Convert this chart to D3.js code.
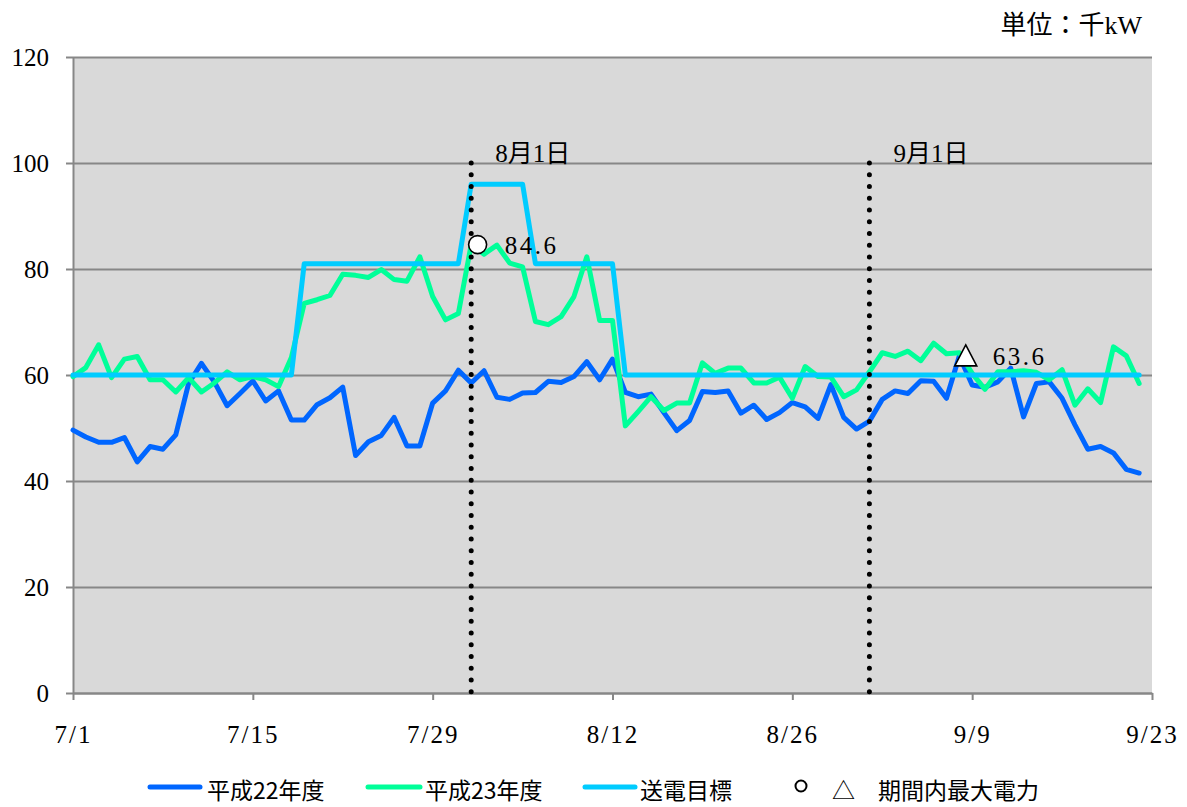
<!DOCTYPE html>
<html><head><meta charset="utf-8">
<script src="https://cdn.jsdelivr.net/npm/d3@7"></script>
<style>
body{margin:0;background:#fff;}
svg{display:block;}
</style>
</head><body>
<svg id="chart" width="1187" height="807"></svg>
<script>
// ---- data ----
const startDate = "2011-07-01";
const endDate = "2011-09-23";
const xTickLabels = ["7/1","7/15","7/29","8/12","8/26","9/9","9/23"];
const yTicks = [0,20,40,60,80,100,120];
const seriesNames = ["平成22年度","平成23年度","送電目標"];
const h22 = [49.6,48.3,47.3,47.3,48.2,43.6,46.5,46.0,48.7,58.4,
             62.2,58.7,54.2,56.5,58.9,55.1,57.0,51.5,51.5,54.4,
             55.7,57.7,44.8,47.4,48.6,52.0,46.6,46.6,54.7,57.0,
             60.9,58.5,60.8,55.8,55.4,56.6,56.7,58.8,58.6,59.7,
             62.5,59.1,63.0,56.7,55.9,56.4,52.9,49.5,51.4,56.9,
             56.7,57.0,52.8,54.3,51.6,52.9,54.8,54.0,51.8,58.2,
             52.0,49.8,51.3,55.4,57.0,56.5,58.9,58.8,55.6,63.6,
             58.1,57.7,58.7,61.3,52.1,58.4,58.7,55.6,50.6,46.0,
             46.5,45.3,42.2,41.5];
const h23 = [59.7,61.4,65.7,59.5,63.0,63.5,59.1,59.1,56.8,59.5,
             56.8,58.5,60.6,59.1,59.7,59.1,57.8,63.3,73.5,74.2,
             75.0,79.0,78.8,78.4,79.9,78.0,77.7,82.3,74.8,70.4,
             71.6,84.6,82.8,84.5,81.1,80.4,70.1,69.5,71.0,74.8,
             82.3,70.3,70.3,50.4,53.1,55.9,53.3,54.7,54.7,62.3,
             60.3,61.3,61.3,58.5,58.5,59.6,55.6,61.6,59.7,59.6,
             55.9,57.2,60.6,64.2,63.5,64.5,62.7,66.0,64.0,64.2,
             60.3,57.3,60.6,60.6,60.8,60.5,59.1,61.0,54.3,57.4,
             54.8,65.3,63.6,58.4];
const target = [60,60,60,60,60,60,60,60,60,60,
                60,60,60,60,60,60,60,60,81,81,
                81,81,81,81,81,81,81,81,81,81,
                81,96,96,96,96,96,81,81,81,81,
                81,81,81,60,60,60,60,60,60,60,
                60,60,60,60,60,60,60,60,60,60,
                60,60,60,60,60,60,60,60,60,60,
                60,60,60,60,60,60,60,60,60,60,
                60,60,60,60];
const markerDates = ["2011-08-01","2011-09-08"];
const markerValues = [84.6, 63.6];
const markerLabels = ["84.6","63.6"];
const markerShapes = ["circle","triangle"];
const eventDates = ["2011-08-01","2011-09-01"];
const eventLabels = ["8月1日","9月1日"];
const unitLabel = "単位：千kW";
const legendMarkerLabel = "△　期間内最大電力";

// ---- layout ----
const svg = d3.select("#chart");
const M = {left:73, top:57, right:1152, bottom:693};
const colors = ["#0066ff","#00ff99","#00ccff"];
const numFont = "'Liberation Serif','Noto Sans CJK JP',serif";
const cjkFont = "'Noto Sans CJK JP',sans-serif";
const gridColor = "#878787";

const parse = s => new Date(s + "T00:00:00Z");
const DAY = 86400000;
const t0 = parse(startDate);
const x = d3.scaleUtc().domain([t0, parse(endDate)]).range([M.left, M.right]);
const y = d3.scaleLinear().domain([0,120]).range([M.bottom, M.top]);
const dateOf = i => new Date(t0.getTime() + i*DAY);
const halfDay = (x(dateOf(1)) - x(dateOf(0))) / 2;

// plot background
svg.append("rect").attr("x",M.left).attr("y",M.top)
  .attr("width",M.right-M.left).attr("height",M.bottom-M.top).attr("fill","#d9d9d9");

// gridlines
const grid = svg.append("g").attr("transform",`translate(${M.left},0)`)
  .call(d3.axisLeft(y).tickValues(yTicks).tickSize(-(M.right-M.left)).tickFormat(""));
grid.select(".domain").remove();
grid.selectAll("line").attr("stroke",gridColor).attr("stroke-width",2);

// y axis
const yAx = svg.append("g").attr("transform",`translate(${M.left},0)`)
  .call(d3.axisLeft(y).tickValues(yTicks).tickSize(7).tickPadding(17).tickSizeOuter(0));
yAx.select(".domain").attr("stroke",gridColor).attr("stroke-width",2);
yAx.selectAll("line").attr("stroke",gridColor).attr("stroke-width",2);
yAx.selectAll("text").attr("font-family",numFont).attr("font-size",25).attr("fill","#000");

// x axis
const tickDates = xTickLabels.map(s => { const [m,d] = s.split("/").map(Number); return new Date(Date.UTC(2011,m-1,d)); });
const xAx = svg.append("g").attr("transform",`translate(0,${M.bottom})`)
  .call(d3.axisBottom(x).tickValues(tickDates).tickSize(7).tickSizeOuter(0)
        .tickFormat((d,i) => xTickLabels[i]));
xAx.select(".domain").attr("stroke",gridColor).attr("stroke-width",2);
xAx.selectAll("line").attr("stroke",gridColor).attr("stroke-width",2);
xAx.selectAll("text").attr("font-family",numFont).attr("font-size",25).attr("fill","#000")
  .attr("y",50).attr("dy",null).attr("letter-spacing",2);

// lines
const series = [h22, h23, target];
const line = d3.line().x((d,i) => x(dateOf(i))).y(d => y(d)).curve(d3.curveLinear);
series.forEach((s,k) => {
  svg.append("path").datum(s).attr("d",line).attr("fill","none")
    .attr("stroke",colors[k]).attr("stroke-width",5)
    .attr("stroke-linejoin","round").attr("stroke-linecap","round");
});

// event dotted lines
eventDates.forEach((ds,i) => {
  const xe = x(parse(ds));
  svg.append("line").attr("x1",xe).attr("x2",xe).attr("y1",y(100)).attr("y2",y(0))
    .attr("stroke","#000").attr("stroke-width",5).attr("stroke-linecap","round")
    .attr("stroke-dasharray","0 11.75");
  svg.append("text").attr("x",xe+24).attr("y",y(100)-1)
    .attr("font-family",numFont).attr("font-size",25).attr("fill","#000")
    .text(eventLabels[i]);
});

// max markers
markerDates.forEach((ds,i) => {
  const mx = x(parse(ds)) + halfDay, my = y(markerValues[i]);
  if (markerShapes[i] === "circle") {
    svg.append("circle").attr("cx",mx).attr("cy",my).attr("r",9)
      .attr("fill","#fff").attr("stroke","#000").attr("stroke-width",1.6);
  } else {
    svg.append("path").attr("transform",`translate(${mx},${my})`)
      .attr("d","M0,-11L11,10L-11,10Z")
      .attr("fill","#fff").attr("stroke","#000").attr("stroke-width",1.6).attr("stroke-linejoin","miter");
  }
  svg.append("text").attr("x",mx+27).attr("y",my+9)
    .attr("font-family",numFont).attr("font-size",25).attr("letter-spacing",2.5).attr("fill","#000")
    .text(markerLabels[i]);
});

// unit label
svg.append("text").attr("x",1142).attr("y",34).attr("text-anchor","end")
  .attr("font-family",numFont).attr("font-size",26).attr("fill","#000").text(unitLabel);

// legend
const legY = 787;
const legItems = [{x1:150,x2:200,tx:207},{x1:368,x2:420,tx:425},{x1:585,x2:635,tx:640}];
legItems.forEach((it,k) => {
  svg.append("line").attr("x1",it.x1).attr("x2",it.x2).attr("y1",legY).attr("y2",legY)
    .attr("stroke",colors[k]).attr("stroke-width",5).attr("stroke-linecap","round");
  svg.append("text").attr("x",it.tx).attr("y",legY+2).attr("dominant-baseline","central")
    .attr("font-family",cjkFont).attr("font-size",23).attr("fill","#000").text(seriesNames[k]);
});
svg.append("circle").attr("cx",801).attr("cy",legY-1).attr("r",5.5)
  .attr("fill","#fff").attr("stroke","#000").attr("stroke-width",2);
svg.append("text").attr("x",832).attr("y",legY+2).attr("dominant-baseline","central")
  .attr("font-family",cjkFont).attr("font-size",23).attr("fill","#000").text(legendMarkerLabel);
</script>
</body></html>
